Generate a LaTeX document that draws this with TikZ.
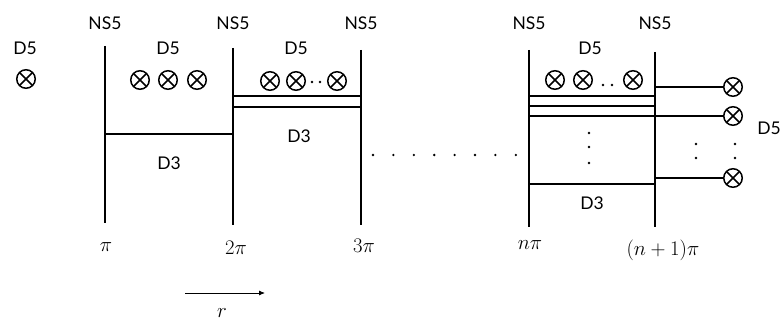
\documentclass[tikz,border=0pt]{standalone}
\usepackage[no-math]{fontspec}
\newfontfamily\branefont{Lato}
\usetikzlibrary{arrows.meta}
\begin{document}
\begin{tikzpicture}[x=1pt,y=-1pt,
  brane/.style={line width=1.6pt},
  dthree/.style={line width=1.5pt},
  lbl/.style={font=\branefont\fontsize{17.5}{19}\selectfont, inner sep=0pt},
  mathlbl/.style={font=\fontsize{20}{24}\selectfont, inner sep=0pt},
  dfive/.style={circle, draw, line width=1.5pt, minimum size=18.5pt, inner sep=0pt,
    path picture={\draw[line width=1.5pt]
      (path picture bounding box.south west) -- (path picture bounding box.north east)
      (path picture bounding box.north west) -- (path picture bounding box.south east);}},
  dotmark/.style={circle, fill, inner sep=0pt, minimum size=2.6pt},
]
\useasboundingbox (0,0) rectangle (782,320);

% NS5 branes
\foreach \n/\x/\t/\b in {1/105/46/223, 2/233/48/225, 3/361/50/225, 4/529/50/227, 5/655/52/227}{
  \coordinate (ns\n t) at (\x,\t);
  \coordinate (ns\n b) at (\x,\b);
  \draw[brane] (ns\n t) -- (ns\n b);
  \node[lbl] (ns\n lbl) at (\x,23) {NS5};
}

% positions along r
\node[mathlbl] (p1) at (106,247) {$\pi$};
\node[mathlbl] (p2) at (236,248) {$2\pi$};
\node[mathlbl] (p3) at (364,246) {$3\pi$};
\node[mathlbl] (pn) at (530,245) {$n\pi$};
\node[mathlbl] (pn1) at (663,250) {$(n+1)\pi$};

% leftmost D5
\node[lbl] (d5a) at (25,48) {D5};
\node[dfive] (x0) at (26,79) {};

% first interval
\node[lbl] (d5b) at (168,48) {D5};
\node[dfive] (x11) at (140,80) {};
\node[dfive] (x12) at (168,80) {};
\node[dfive] (x13) at (197,80) {};
\coordinate (c1l) at (105,134);
\coordinate (c1r) at (233,134);
\draw[dthree] (c1l) -- (c1r);
\node[lbl] (d3a) at (169,163) {D3};

% second interval
\node[lbl] (d5c) at (296,48) {D5};
\node[dfive] (x21) at (270,81) {};
\node[dfive] (x22) at (296,81) {};
\node[dotmark] (m21) at (312,82) {};
\node[dotmark] (m22) at (320,82) {};
\node[dfive] (x23) at (337,81) {};
\coordinate (c2al) at (233,96);
\coordinate (c2ar) at (360,96);
\coordinate (c2bl) at (233,107);
\coordinate (c2br) at (361,107);
\draw[dthree] (c2al) -- (c2ar);
\draw[dthree] (c2bl) -- (c2br);
\node[lbl] (d3b) at (299,136) {D3};

% dots between 3pi and n pi
\foreach \i in {0,...,7}{
  \node[dotmark] (h\i) at (373+\i*20.4,155) {};
}

% n-th interval
\node[lbl] (d5d) at (590,48) {D5};
\node[dfive] (xn1) at (555,80) {};
\node[dfive] (xn2) at (583,80) {};
\node[dotmark] (mn1) at (603,85) {};
\node[dotmark] (mn2) at (612,85) {};
\node[dfive] (xn3) at (633,80) {};
\coordinate (cnal) at (529,96);
\coordinate (cnar) at (655,96);
\coordinate (cnbl) at (529,106);
\coordinate (cnbr) at (655,106);
\coordinate (cncl) at (529,116);
\coordinate (cndl) at (529,184);
\coordinate (cndr) at (655,184);
\draw[dthree] (cnal) -- (cnar);
\draw[dthree] (cnbl) -- (cnbr);
\draw[dthree] (cndl) -- (cndr);
\node[dotmark] (vn1) at (589,133) {};
\node[dotmark] (vn2) at (589,147) {};
\node[dotmark] (vn3) at (589,163) {};
\node[lbl] (d3c) at (592,203) {D3};

% D5 branes beyond the last NS5
\node[dfive] (r1) at (733,87) {};
\node[dfive] (r2) at (733,116) {};
\node[dfive] (r3) at (733,178) {};
\coordinate (s1) at (655,87);
\coordinate (s3) at (655,178);
\draw[dthree] (s1) -- (r1);
\draw[dthree] (cncl) -- (r2);
\draw[dthree] (s3) -- (r3);
\node[lbl] (d5e) at (769,128) {D5};
\node[dotmark] (q1) at (696,144) {};
\node[dotmark] (q2) at (696,158) {};
\node[dotmark] (q3) at (735,144) {};
\node[dotmark] (q4) at (735,158) {};

% radial direction
\coordinate (ra) at (185,293);
\coordinate (rb) at (265,293);
\draw[line width=0.8pt, -{Latex[length=6pt,width=5pt]}] (ra) -- (rb);
\node[mathlbl] (rlbl) at (222,313) {$r$};
\end{tikzpicture}
\end{document}
